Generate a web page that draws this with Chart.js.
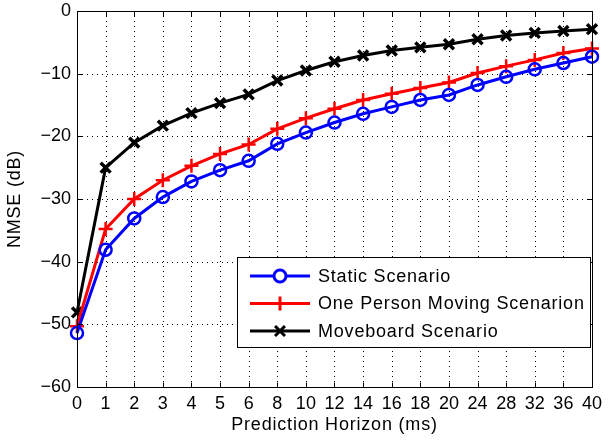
<!DOCTYPE html>
<html>
<head>
<meta charset="utf-8">
<script src="https://cdn.jsdelivr.net/npm/chart.js@4"></script>
<style>
  html, body { margin: 0; padding: 0; background: #fff; }
  #wrap { width: 608px; height: 443px; }
</style>
</head>
<body>
<div id="wrap"><canvas id="c" width="608" height="443"></canvas></div>
<script>
// Prediction horizons (ms)
const horizons = ['0','1','2','3','4','5','6','8','10','12','14','16','18','20','24','28','32','36','40'];

// NMSE (dB) per scenario
const staticScenario = [-51.4,-38.1,-33.1,-29.7,-27.2,-25.4,-23.9,-21.2,-19.4,-17.8,-16.4,-15.3,-14.2,-13.4,-11.8,-10.5,-9.3,-8.3,-7.3];
const onePersonMoving = [-50.3,-34.8,-30.0,-27.0,-24.7,-22.8,-21.3,-18.8,-17.1,-15.6,-14.2,-13.2,-12.3,-11.4,-9.9,-8.8,-7.8,-6.7,-6.0];
const moveboard = [-48.1,-25.0,-21.0,-18.3,-16.3,-14.7,-13.3,-11.1,-9.5,-8.1,-7.1,-6.3,-5.8,-5.3,-4.5,-3.9,-3.5,-3.2,-2.9];

const seriesLabels = ['Static Scenario', 'One Person Moving Scenarion', 'Moveboard Scenario'];
const yTicks = [-60,-50,-40,-30,-20,-10,0];
const xTitle = 'Prediction Horizon (ms)';
const yTitle = 'NMSE (dB)';

const FONT = '"Liberation Sans", Arial, Helvetica, sans-serif';

// Dotted grid, framed axes box with inward ticks, axis titles and the inset legend
const framePlugin = {
  id: 'frame',
  beforeDatasetsDraw(chart) {
    const {ctx, chartArea: a, scales: {x, y}} = chart;
    ctx.save();
    ctx.strokeStyle = '#000';
    ctx.lineWidth = 1;
    ctx.setLineDash([1, 4]);
    horizons.forEach((_, i) => {
      const px = Math.round(x.getPixelForValue(i)) + 0.5;
      ctx.beginPath(); ctx.moveTo(px, a.top); ctx.lineTo(px, a.bottom); ctx.stroke();
    });
    yTicks.forEach(v => {
      const py = Math.round(y.getPixelForValue(v)) + 0.5;
      ctx.beginPath(); ctx.moveTo(a.left, py); ctx.lineTo(a.right, py); ctx.stroke();
    });
    ctx.restore();
  },
  afterDatasetsDraw(chart) {
    const {ctx, chartArea: a, scales: {x, y}} = chart;
    ctx.save();
    ctx.strokeStyle = '#000';
    ctx.lineWidth = 1;
    ctx.setLineDash([]);
    const L = Math.round(a.left) + 0.5, R = Math.round(a.right) + 0.5;
    const T = Math.round(a.top) + 0.5, B = Math.round(a.bottom) + 0.5;
    ctx.strokeRect(L, T, R - L, B - T);
    const tl = 5;
    ctx.beginPath();
    horizons.forEach((_, i) => {
      const px = Math.round(x.getPixelForValue(i)) + 0.5;
      ctx.moveTo(px, B); ctx.lineTo(px, B - tl);
      ctx.moveTo(px, T); ctx.lineTo(px, T + tl);
    });
    yTicks.forEach(v => {
      const py = Math.round(y.getPixelForValue(v)) + 0.5;
      ctx.moveTo(L, py); ctx.lineTo(L + tl, py);
      ctx.moveTo(R, py); ctx.lineTo(R - tl, py);
    });
    ctx.stroke();

    // axis titles
    ctx.fillStyle = '#000';
    ctx.font = '18px ' + FONT;
    ctx.letterSpacing = '0.8px';
    ctx.textAlign = 'center';
    ctx.textBaseline = 'middle';
    ctx.fillText(xTitle, (a.left + a.right) / 2, 425);
    ctx.translate(15, (a.top + a.bottom) / 2);
    ctx.rotate(-Math.PI / 2);
    ctx.fillText(yTitle, 0, 0);
    ctx.restore();
  },
  afterDraw(chart) {
    const {ctx} = chart;
    const box = {x: 237.5, y: 257.5, w: 353, h: 90};
    ctx.save();
    ctx.fillStyle = '#fff';
    ctx.fillRect(box.x, box.y, box.w, box.h);
    ctx.strokeStyle = '#000';
    ctx.lineWidth = 1;
    ctx.strokeRect(box.x, box.y, box.w, box.h);
    ctx.font = '18px ' + FONT;
    ctx.letterSpacing = '0.8px';
    ctx.textBaseline = 'middle';
    ctx.textAlign = 'left';
    chart.data.datasets.forEach((ds, i) => {
      const cy = 276 + i * 27.5;
      ctx.strokeStyle = ds.borderColor;
      ctx.lineWidth = ds.borderWidth;
      ctx.beginPath(); ctx.moveTo(250, cy); ctx.lineTo(310, cy); ctx.stroke();
      Chart.helpers.drawPoint(ctx, {
        pointStyle: ds.pointStyle,
        radius: ds.pointRadius,
        borderWidth: ds.pointBorderWidth,
        rotation: 0
      }, 280, cy);
      ctx.fillStyle = '#000';
      ctx.fillText(ds.label, 318, cy + 1);
    });
    ctx.restore();
  }
};

function series(label, data, color, style, radius, pbw) {
  return {
    label, data,
    borderColor: color,
    backgroundColor: 'rgba(0,0,0,0)',
    pointBorderColor: color,
    pointBackgroundColor: 'rgba(0,0,0,0)',
    borderWidth: 3,
    pointStyle: style,
    pointRadius: radius,
    pointBorderWidth: pbw,
    pointHoverRadius: radius,
    tension: 0,
    clip: false
  };
}

new Chart(document.getElementById('c'), {
  type: 'line',
  data: {
    labels: horizons,
    datasets: [
      series(seriesLabels[0], staticScenario, '#0000ff', 'circle', 6, 2.5),
      series(seriesLabels[1], onePersonMoving, '#ff0000', 'cross', 7, 2.5),
      series(seriesLabels[2], moveboard, '#000000', 'crossRot', 7, 3.5)
    ]
  },
  options: {
    responsive: false,
    animation: false,
    devicePixelRatio: 1,
    layout: { padding: { left: 0, right: 14, top: 11, bottom: 0 } },
    plugins: { legend: { display: false }, tooltip: { enabled: false } },
    scales: {
      x: {
        type: 'category',
        offset: false,
        grid: { display: false, drawTicks: false },
        border: { display: false },
        ticks: {
          color: '#000', font: { family: FONT, size: 18 },
          padding: 6, maxRotation: 0, autoSkip: false
        },
        title: { display: false },
        afterFit(s) { s.height = 56; }
      },
      y: {
        min: -60, max: 0,
        grid: { display: false, drawTicks: false },
        border: { display: false },
        afterBuildTicks(s) { s.ticks = yTicks.map(v => ({ value: v })); },
        ticks: {
          color: '#000', font: { family: FONT, size: 18, lineHeight: 0.9 }, padding: 6,
          callback: v => (v < 0 ? '\u2212' + Math.abs(v) : String(v))
        },
        title: { display: false },
        afterFit(s) { s.width = 77; s.paddingTop = 0; s.paddingBottom = 0; }
      }
    }
  },
  plugins: [framePlugin]
});
</script>
</body>
</html>
